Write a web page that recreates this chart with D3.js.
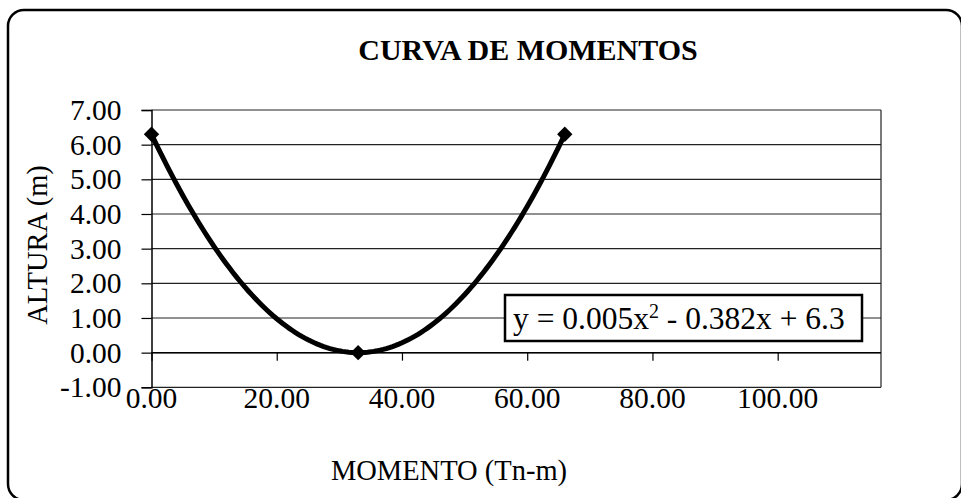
<!DOCTYPE html>
<html>
<head>
<meta charset="utf-8">
<script src="https://cdn.jsdelivr.net/npm/d3@7"></script>
<style>
  html, body { margin: 0; padding: 0; background: #fff; }
  svg { display: block; }
  text { font-family: "Liberation Serif", "Times New Roman", serif; fill: #000; }
</style>
</head>
<body>
<svg id="chart" width="961" height="498"></svg>
<script>
// Moment curve data: moment (Tn-m) vs height (m)
const momento = [0, 33, 66];
const altura = [6.3, 0, 6.3];
const xTicks = [0, 20, 40, 60, 80, 100];
const yTicks = [-1, 0, 1, 2, 3, 4, 5, 6, 7];
const xDomain = [0, 116.5];
const yDomain = [-1, 7];
const titleText = "CURVA DE MOMENTOS";
const xTitle = "MOMENTO (Tn-m)";
const yTitle = "ALTURA (m)";
const eqLabel = ["y = 0.005x", "2", " - 0.382x + 6.3"];

const svg = d3.select("#chart");
// Plain hyphen for negative numbers
const fmt = d3.formatLocale({ decimal: ".", thousands: ",", grouping: [3], currency: ["", ""], minus: "-" }).format(".2f");

const x = d3.scaleLinear().domain(xDomain).range([151.5, 881]);
const y = d3.scaleLinear().domain(yDomain).range([387.3, 110]);

// Outer frame with rounded corners (runs past the right and bottom edges)
svg.append("rect")
  .attr("x", 8).attr("y", 10)
  .attr("width", 954).attr("height", 490)
  .attr("rx", 16).attr("ry", 16)
  .attr("fill", "none").attr("stroke", "#000").attr("stroke-width", 2.5);

// Title
svg.append("text")
  .attr("x", 528).attr("y", 60)
  .attr("text-anchor", "middle")
  .attr("font-size", 30).attr("font-weight", "bold")
  .text(titleText);

// Horizontal gridlines
svg.append("g").selectAll("line").data(yTicks).join("line")
  .attr("x1", x(xDomain[0])).attr("x2", x(xDomain[1]))
  .attr("y1", d => y(d)).attr("y2", d => y(d))
  .attr("stroke", "#222").attr("stroke-width", 1.2);

// Right border of plot area
svg.append("line")
  .attr("x1", x(xDomain[1])).attr("x2", x(xDomain[1]))
  .attr("y1", y(yDomain[1])).attr("y2", y(yDomain[0]))
  .attr("stroke", "#222").attr("stroke-width", 1.2);

// Y axis
const yAxis = svg.append("g")
  .attr("transform", `translate(${x(0)},0)`)
  .call(d3.axisLeft(y).tickValues(yTicks).tickFormat(fmt).tickSize(10).tickPadding(20));
yAxis.select(".domain").attr("stroke", "#000").attr("stroke-width", 1.5);
yAxis.selectAll(".tick line").attr("stroke", "#000").attr("stroke-width", 1.2);
yAxis.selectAll(".tick text")
  .attr("font-size", 29.5)
  .attr("font-family", "'Liberation Serif', 'Times New Roman', serif")
  .attr("fill", "#000");

// X axis: line at y = 0, ticks below it, labels along the bottom
const xAxis = svg.append("g")
  .attr("transform", `translate(0,${y(0)})`)
  .call(d3.axisBottom(x).tickValues(xTicks).tickFormat("").tickSize(8));
xAxis.select(".domain").remove();
xAxis.selectAll(".tick line").attr("stroke", "#000").attr("stroke-width", 1.2);
svg.append("line")
  .attr("x1", x(xDomain[0])).attr("x2", x(xDomain[1]))
  .attr("y1", y(0)).attr("y2", y(0))
  .attr("stroke", "#000").attr("stroke-width", 1.5);

svg.append("g").selectAll("text").data(xTicks).join("text")
  .attr("x", d => x(d)).attr("y", 408)
  .attr("text-anchor", "middle")
  .attr("font-size", 29.5)
  .text(d => fmt(d));

// Axis titles
svg.append("text")
  .attr("x", 449).attr("y", 480)
  .attr("text-anchor", "middle")
  .attr("font-size", 28.5)
  .text(xTitle);

svg.append("text")
  .attr("transform", "translate(47,245) rotate(-90)")
  .attr("text-anchor", "middle")
  .attr("font-size", 28.5)
  .text(yTitle);

// Polynomial (order 2) trendline fitted through the points
function quadFit(xs, ys) {
  // Normal equations for y = a x^2 + b x + c
  const S = k => d3.sum(xs, v => Math.pow(v, k));
  const T = k => d3.sum(xs, (v, i) => Math.pow(v, k) * ys[i]);
  const M = [
    [S(4), S(3), S(2), T(2)],
    [S(3), S(2), S(1), T(1)],
    [S(2), S(1), xs.length, T(0)]
  ];
  for (let i = 0; i < 3; i++) {
    let p = i;
    for (let r = i + 1; r < 3; r++) if (Math.abs(M[r][i]) > Math.abs(M[p][i])) p = r;
    [M[i], M[p]] = [M[p], M[i]];
    for (let r = 0; r < 3; r++) {
      if (r === i) continue;
      const f = M[r][i] / M[i][i];
      for (let c = i; c < 4; c++) M[r][c] -= f * M[i][c];
    }
  }
  return [M[0][3] / M[0][0], M[1][3] / M[1][1], M[2][3] / M[2][2]];
}
const [qa, qb, qc] = quadFit(momento, altura);
const curvePts = d3.range(d3.min(momento), d3.max(momento) + 0.001, 0.5)
  .map(v => [v, qa * v * v + qb * v + qc]);

svg.append("path")
  .datum(curvePts)
  .attr("fill", "none")
  .attr("stroke", "#000")
  .attr("stroke-width", 5)
  .attr("stroke-linecap", "round")
  .attr("d", d3.line().x(d => x(d[0])).y(d => y(d[1])));

// Diamond markers
svg.append("g").selectAll("path").data(momento).join("path")
  .attr("transform", (d, i) => `translate(${x(d)},${y(altura[i])})`)
  .attr("d", d3.symbol().type(d3.symbolDiamond2).size(150))
  .attr("fill", "#000");

// Trendline equation box
const box = svg.append("g");
box.append("rect")
  .attr("x", 505).attr("y", 295)
  .attr("width", 357).attr("height", 46)
  .attr("fill", "#fff").attr("stroke", "#000").attr("stroke-width", 2.5);
const eq = box.append("text")
  .attr("x", 513).attr("y", 329)
  .attr("font-size", 31.5);
eq.append("tspan").text(eqLabel[0]);
eq.append("tspan").attr("dy", -11).attr("font-size", 20).text(eqLabel[1]);
eq.append("tspan").attr("dy", 11).text(eqLabel[2]);
</script>
</body>
</html>
